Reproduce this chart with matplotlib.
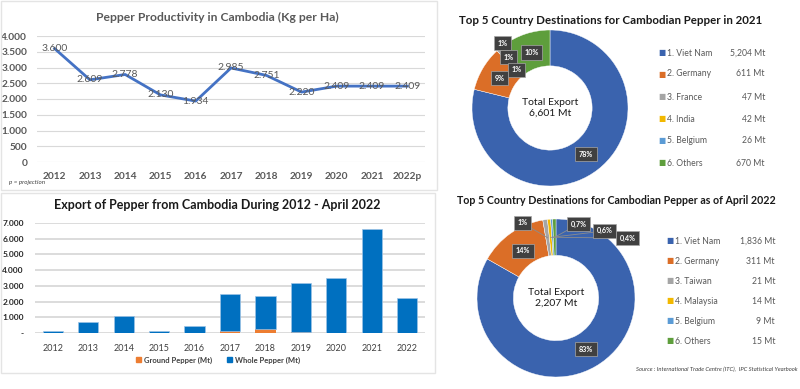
import numpy as np
import matplotlib.pyplot as plt
from matplotlib.patches import Rectangle, Patch

plt.rcParams['font.family'] = ['Lato', 'DejaVu Sans']

# productivity (Kg per Ha)
prod_years = ['2012', '2013', '2014', '2015', '2016', '2017', '2018', '2019', '2020', '2021', '2022p']
productivity = [3600, 2609, 2778, 2130, 1934, 2985, 2751, 2220, 2409, 2409, 2409]

# export volume (Mt)
export_years = ['2012', '2013', '2014', '2015', '2016', '2017', '2018', '2019', '2020', '2021', '2022']
ground_pepper = [0, 0, 0, 0, 0, 150, 280, 90, 10, 0, 0]
whole_pepper = [130, 720, 1060, 150, 470, 2330, 2090, 3090, 3470, 6601, 2207]

# destinations 2021
dest21_names = ['1. Viet Nam', '2. Germany', '3. France', '4. India', '5. Belgium', '6. Others']
dest21_values = [5204, 611, 47, 42, 26, 670]
dest21_pct = ['78%', '9%', '1%', '1%', '1%', '10%']
dest21_total = 6601

# destinations Jan-Apr 2022
dest22_names = ['1. Viet Nam', '2. Germany', '3. Taiwan', '4. Malaysia', '5. Belgium', '6. Others']
dest22_values = [1836, 311, 21, 14, 9, 15]
dest22_pct = ['83%', '14%', '1%', '0,6%', '0,4%', '0,7%']
dest22_total = 2207

slice_colors = ['#3A63AE', '#DB6E27', '#A5A5A5', '#F2B800', '#5B9BD5', '#5E9E3C']

W, H = 800, 389
fig = plt.figure(figsize=(8, 3.89), dpi=100)


def px_axes(x0, y0, x1, y1):
    return fig.add_axes([x0 / W, 1 - y1 / H, (x1 - x0) / W, (y1 - y0) / H])


def dots(v):
    return f"{v:,}".replace(",", ".")


# panel frames
fig.add_artist(Rectangle((1 / W, 1 - 190 / H), 436 / W, 189 / H, transform=fig.transFigure,
                         fill=False, ec='#E4E4E4', lw=1))
fig.add_artist(Rectangle((1 / W, 1 - 373 / H), 434 / W, 180 / H, transform=fig.transFigure,
                         fill=False, ec='#E4E4E4', lw=1))

# ---- line chart
ax1 = px_axes(37, 36, 425, 162)
x = np.arange(len(prod_years))
ax1.plot(x, productivity, color='#4472C4', lw=2)
for xi, v in zip(x, productivity):
    ax1.text(xi, v, dots(v), ha='center', va='center', fontsize=7.5, color='#595959')
ax1.set_xlim(-0.5, len(x) - 0.5)
ax1.set_ylim(0, 4000)
ax1.set_yticks(range(0, 4001, 500))
ax1.set_yticklabels([dots(t) for t in range(0, 4001, 500)], fontsize=7.3, fontweight='bold', color='#595959')
ax1.set_xticks(x)
ax1.set_xticklabels(prod_years, fontsize=7.3, fontweight='bold', color='#595959')
ax1.grid(axis='y', color='#D9D9D9', lw=0.8)
ax1.set_axisbelow(True)
for s in ax1.spines.values():
    s.set_visible(False)
ax1.tick_params(length=0)
ax1.tick_params(axis='x', pad=7)
ax1.tick_params(axis='y', pad=7)
fig.text(217 / W, 1 - 17 / H, 'Pepper Productivity in Cambodia (Kg per Ha)', ha='center', va='center',
         fontsize=8.7, fontweight='bold', color='#595959')
fig.text(9 / W, 1 - 182 / H, 'p = projection', ha='left', va='center', fontsize=4.5,
         fontstyle='italic', color='#404040')

# ---- stacked bars
ax2 = px_axes(35, 223, 425, 333)
xb = np.arange(len(export_years))
ax2.bar(xb, ground_pepper, width=0.57, color='#ED7D31', label='Ground Pepper (Mt)')
ax2.bar(xb, whole_pepper, width=0.57, bottom=ground_pepper, color='#0070C0',
        edgecolor='#9DC3E6', lw=0.5, label='Whole Pepper (Mt)')
ax2.set_xlim(-0.5, len(xb) - 0.5)
ax2.set_ylim(0, 7000)
ax2.set_yticks(range(0, 7001, 1000))
ax2.set_yticklabels(['-'] + [dots(t) for t in range(1000, 7001, 1000)], fontsize=6,
                    fontweight='bold', color='#262626')
ax2.set_xticks(xb)
ax2.set_xticklabels(export_years, fontsize=6.5, color='#404040')
ax2.grid(axis='y', color='#D9D9D9', lw=1.3)
ax2.set_axisbelow(True)
for s in ax2.spines.values():
    s.set_visible(False)
ax2.tick_params(length=0)
ax2.tick_params(axis='x', pad=8)
ax2.tick_params(axis='y', pad=8)
fig.text(217 / W, 1 - 205 / H, 'Export of Pepper from Cambodia During 2012 - April 2022', ha='center',
         va='center', fontsize=9, fontweight='bold', color='#1a1a1a')
handles = [Patch(color='#ED7D31'), Patch(color='#0070C0')]
leg = fig.legend(handles, ['Ground Pepper (Mt)', 'Whole Pepper (Mt)'], loc='center',
                 bbox_to_anchor=(218 / W, 1 - 360 / H), ncol=2, frameon=False, fontsize=5.5,
                 handlelength=0.6, handleheight=0.6, handletextpad=0.4, columnspacing=2.0)
for t in leg.get_texts():
    t.set_fontweight('bold')
    t.set_color('#404040')


# ---- donuts
def donut(cx, cy, r, values, pct, total, label_pos, leaders):
    ax = px_axes(cx - r, cy - r, cx + r, cy + r)
    wedges, _ = ax.pie(values, colors=slice_colors, startangle=90, counterclock=False, radius=1,
                       wedgeprops=dict(width=0.46, edgecolor='white', linewidth=0.3))
    ax.set_xlim(-1, 1)
    ax.set_ylim(-1, 1)
    for w, p, (ang, rad), lead in zip(wedges, pct, label_pos, leaders):
        mid = np.deg2rad((w.theta1 + w.theta2) / 2)
        a = mid if ang is None else np.deg2rad(ang)
        tx, ty = rad * np.cos(a), rad * np.sin(a)
        if lead:
            ax.plot([0.77 * np.cos(mid), tx], [0.77 * np.sin(mid), ty], color='#8C8C8C', lw=0.6,
                    zorder=3, clip_on=False)
        ax.text(tx, ty, p, ha='center', va='center', fontsize=5.2, fontweight='bold', color='white',
                zorder=4, clip_on=False,
                bbox=dict(boxstyle='square,pad=0.5', fc='#404040', ec='#A6A6A6', lw=0.5))
    ax.text(0, 0, f'Total Export\n{total:,} Mt', ha='center', va='center', fontsize=7.5,
            color='#1a1a1a', linespacing=1.3)
    return ax


donut(550, 108, 78, dest21_values, dest21_pct, dest21_total,
      [(None, 0.75), (None, 0.75), (126, 1.03), (129, 0.84), (131, 0.65), (None, 0.75)],
      [False] * 6)
donut(556, 298, 79, dest22_values, dest22_pct, dest22_total,
      [(None, 0.75), (None, 0.73), (114, 1.04), (54, 1.05), (40, 1.18), (73, 0.98)],
      [False, False, True, True, True, True])

fig.text(611 / W, 1 - 21 / H, 'Top 5 Country Destinations for Cambodian Pepper in 2021', ha='center',
         va='center', fontsize=8.3, fontweight='bold', color='#1a1a1a')
fig.text(616 / W, 1 - 200 / H, 'Top 5 Country Destinations for Cambodian Pepper as of April 2022',
         ha='center', va='center', fontsize=7.7, fontweight='bold', color='#1a1a1a')


def side_legend(names, values, ys, mx, vx):
    for i, (n, v, y) in enumerate(zip(names, values, ys)):
        fig.text(mx / W, 1 - y / H, '\u25A0', family=['DejaVu Sans'], fontsize=5.5,
                 color=slice_colors[i], ha='center', va='center')
        fig.text((mx + 5) / W, 1 - y / H, n, fontsize=6.2, color='#595959', ha='left', va='center')
        fig.text(vx / W, 1 - y / H, f'{v:,} Mt', fontsize=6.2, color='#595959', ha='right', va='center')


side_legend(dest21_names, dest21_values, [53, 74, 97, 119, 141, 163], 662, 765)
side_legend(dest22_names, dest22_values, [241, 261, 281, 301, 321, 341], 670, 775)

fig.text(798 / W, 1 - 369 / H, 'Source : International Trade Centre (ITC),  IPC Statistical Yearbook',
         ha='right', va='center', fontsize=4.2, fontstyle='italic', color='#404040')

fig.savefig('out.png', dpi=100)
